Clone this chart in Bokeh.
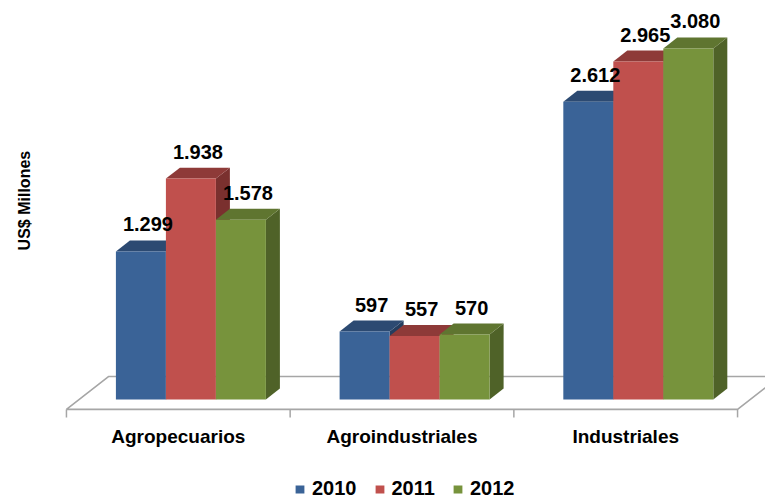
import math
from bokeh.plotting import figure
from bokeh.models import Range1d, ColumnDataSource, Legend, LegendItem
from bokeh.core.properties import value
from bokeh.embed import file_html
from bokeh.resources import INLINE

# ---- data ----
categories = ["Agropecuarios", "Agroindustriales", "Industriales"]
years = ["2010", "2011", "2012"]
v2010 = [1299, 597, 2612]
v2011 = [1938, 557, 2965]
v2012 = [1578, 570, 3080]
series = [v2010, v2011, v2012]
y_title = "US$ Millones"

# ---- styles ----
front_colors = ["#3A6397", "#C0504D", "#77933C"]
top_colors = ["#2C4A72", "#8E3A38", "#5F7530"]
side_colors = ["#243D5E", "#7A302E", "#4F6228"]
FONT = "Liberation Sans"

W = 0.2235      # bar width (category units)
DX = 0.0626     # depth offset x (category units)
DY = 96.0       # depth offset y (value units)
S = 0.9 * DX    # bar front shift relative to floor front
UPP = 3508 / 400.0   # value units per pixel

p = figure(frame_width=765, frame_height=502, output_backend="svg",
           toolbar_location=None,
           x_range=Range1d(-0.7948, 2.6249), y_range=Range1d(-903, 3500),
           min_border_left=0, min_border_right=0, min_border_top=0,
           min_border_bottom=0)
p.outline_line_color = None
p.xgrid.visible = False
p.ygrid.visible = False
p.xaxis.visible = False
p.yaxis.visible = False
p.background_fill_color = "white"
p.border_fill_color = "white"

# floor
n = len(categories)
fx0, fx1 = -0.5, n - 0.5
fy0 = -0.9 * DY
floor = ColumnDataSource(dict(
    x=[fx0, fx1, fx1 + 3 * DX, fx0 + 3 * DX],
    y=[fy0, fy0, fy0 + 3 * DY, fy0 + 3 * DY]))
p.patch("x", "y", source=floor, fill_color="white",
        line_color="#A6A6A6", line_width=1.6)

# category tick marks on the floor's front edge
bounds = [i - 0.5 for i in range(n + 1)]
p.segment(x0=bounds, y0=[fy0] * len(bounds), x1=bounds,
          y1=[fy0 - 8 * UPP] * len(bounds),
          line_color="#A6A6A6", line_width=1.5)

legend_items = []
for k, vals in enumerate(series):
    centers = [g + S + (k - 1) * W for g in range(n)]
    lefts = [c - W / 2 for c in centers]
    rights = [c + W / 2 for c in centers]
    side_xs = [[r, r, r + DX, r + DX] for r in rights]
    side_ys = [[0, v, v + DY, DY] for v in vals]
    top_xs = [[l, r, r + DX, l + DX] for l, r in zip(lefts, rights)]
    top_ys = [[v, v, v + DY, v + DY] for v in vals]
    p.patches(side_xs, side_ys, fill_color=side_colors[k], line_color=None)
    p.patches(top_xs, top_ys, fill_color=top_colors[k], line_color=None)
    src = ColumnDataSource(dict(left=lefts, right=rights,
                                bottom=[0] * n, top=vals))
    r = p.quad(left="left", right="right", bottom="bottom", top="top",
               source=src, fill_color=front_colors[k], line_color=None)
    legend_items.append(LegendItem(label=years[k], renderers=[r]))

# data labels (drawn after all bars)
for k, vals in enumerate(series):
    centers = [g + S + (k - 1) * W for g in range(n)]
    lsrc = ColumnDataSource(dict(
        x=[c + DX / 2 for c in centers],
        y=[v + DY for v in vals],
        t=["{:,}".format(v).replace(",", ".") for v in vals]))
    p.text("x", "y", text="t", source=lsrc, text_align="center",
           text_baseline="alphabetic", y_offset=-16,
           text_font=value(FONT), text_font_style="bold",
           text_font_size="20px", text_color="black")

# category labels
csrc = ColumnDataSource(dict(x=list(range(n)), y=[fy0] * n, t=categories))
p.text("x", "y", text="t", source=csrc, text_align="center",
       text_baseline="middle", y_offset=27,
       text_font=value(FONT), text_font_style="bold",
       text_font_size="19px", text_color="black")

# y title
p.text(x=[-0.6875], y=[1745], text=[y_title], angle=math.pi / 2,
       text_align="center", text_baseline="middle",
       text_font=value(FONT), text_font_style="bold",
       text_font_size="16px", text_color="black")

legend = Legend(items=legend_items, orientation="horizontal",
                location=(294, 2), glyph_width=11, glyph_height=10,
                label_standoff=7, spacing=17, padding=0, margin=0,
                border_line_color=None, background_fill_alpha=0,
                label_text_font=FONT, label_text_font_style="bold",
                label_text_font_size="20px", label_text_color="black")
p.add_layout(legend, "center")

open("out.html", "w").write(file_html(p, INLINE))
